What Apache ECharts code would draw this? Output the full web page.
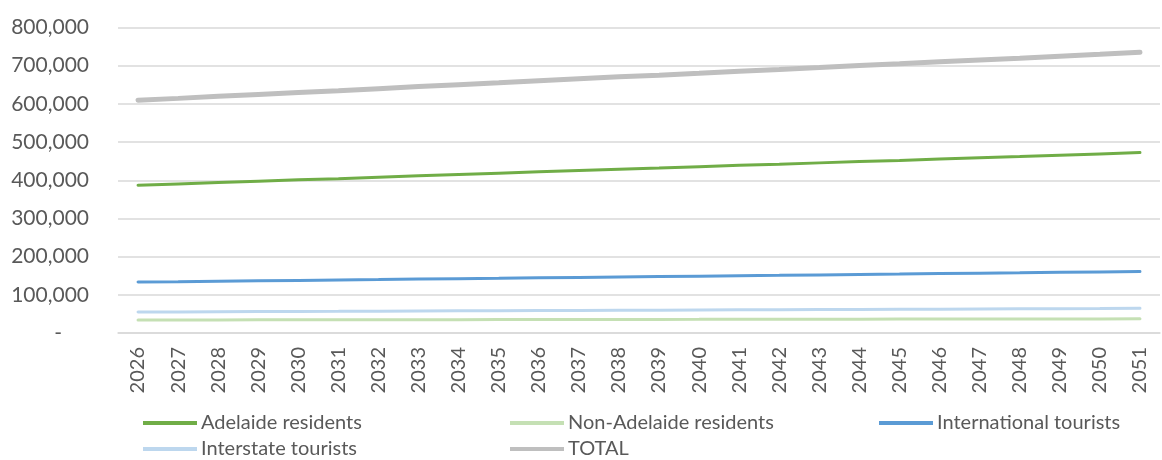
<!DOCTYPE html>
<html>
<head>
<meta charset="utf-8">
<script src="https://cdn.jsdelivr.net/npm/echarts@6/dist/echarts.min.js"></script>
<style>
  html, body { margin: 0; padding: 0; background: #fff; }
  #chart { width: 1162px; height: 460px; }
</style>
</head>
<body>
<div id="chart"></div>
<script>
var years = ['2026', '2027', '2028', '2029', '2030', '2031', '2032', '2033', '2034', '2035', '2036', '2037', '2038',
    '2039', '2040', '2041', '2042', '2043', '2044', '2045', '2046', '2047', '2048', '2049', '2050', '2051'];

var adelaide = [387000, 390500, 394000, 397500, 401000, 404000, 408000, 411500, 415000, 418500, 422000, 425500, 429000,
    432000, 435500, 439000, 442000, 445500, 449000, 452000, 455500, 459000, 462000, 465500, 469000, 472500];
var nonAdelaide = [34000, 34100, 34200, 34400, 34500, 34600, 34700, 34900, 35000, 35100, 35200, 35400, 35500,
    35600, 35700, 35900, 36000, 36100, 36200, 36400, 36500, 36600, 36700, 36800, 36900, 37000];
var international = [133500, 134500, 135800, 136800, 137800, 139000, 140000, 141300, 142300, 143300, 144500, 145600, 146800,
    147800, 148800, 150000, 151000, 152200, 153300, 154300, 155500, 156600, 157600, 158800, 159900, 161000];
var interstate = [55000, 55300, 55700, 56100, 56500, 56800, 57200, 57600, 58000, 58300, 58700, 59100, 59500,
    59800, 60200, 60600, 61000, 61300, 61700, 62100, 62500, 62900, 63300, 63700, 64300, 65000];
var total = [609500, 614400, 619700, 624800, 629800, 634400, 639900, 645300, 650300, 655200, 660400, 665600, 670800,
    675200, 680200, 685500, 690200, 695100, 700400, 704900, 710000, 715100, 719600, 724800, 730000, 735500];

var seriesNames = ['Adelaide residents', 'Non-Adelaide residents', 'International tourists', 'Interstate tourists', 'TOTAL'];
var seriesColors = ['#70ad47', '#c5e0b4', '#5b9bd5', '#bdd7ee', '#bfbfbf'];
var seriesData = [adelaide, nonAdelaide, international, interstate, total];
var seriesWidth = [3, 3, 3, 3, 5];

var font = 'Lato, "Open Sans", sans-serif';

// one legend per column so the items line up like the Excel legend
function makeLegend(names, left) {
    return {
        orient: 'vertical',
        left: left,
        top: 412,
        height: 60,
        padding: 0,
        itemWidth: 54,
        itemHeight: 4,
        itemGap: 4,
        icon: 'rect',
        textStyle: { color: '#595959', fontSize: 20, fontFamily: font, lineHeight: 22, padding: [0, 0, 0, -1] },
        data: names
    };
}

var series = [];
for (var i = 0; i < seriesNames.length; i++) {
    series.push({
        name: seriesNames[i],
        type: 'line',
        symbol: 'none',
        data: seriesData[i],
        itemStyle: { color: seriesColors[i] },
        lineStyle: { color: seriesColors[i], width: seriesWidth[i], cap: 'round' }
    });
}

var option = {
    backgroundColor: '#fff',
    animation: false,
    legend: [
        makeLegend([seriesNames[0], seriesNames[3]], 143),
        makeLegend([seriesNames[1], seriesNames[4]], 510),
        makeLegend([seriesNames[2]], 879)
    ],
    grid: { left: 118, right: 2, top: 27.5, bottom: 127 },
    xAxis: {
        type: 'category',
        boundaryGap: true,
        data: years,
        axisLine: { show: true, lineStyle: { color: '#d9d9d9', width: 1.5 } },
        axisTick: { show: false },
        axisLabel: { rotate: 90, color: '#595959', fontSize: 20, fontFamily: font, margin: 14, interval: 0 }
    },
    yAxis: {
        type: 'value',
        min: 0,
        max: 800000,
        interval: 100000,
        axisLine: { show: false },
        axisTick: { show: false },
        splitLine: { lineStyle: { color: '#d9d9d9', width: 1.5 } },
        axisLabel: {
            color: '#595959', fontSize: 21, fontFamily: font, margin: 29,
            formatter: function (v) {
                if (v === 0) return '-     ';
                return v.toString().replace(/\B(?=(\d{3})+(?!\d))/g, ',');
            }
        }
    },
    series: series
};

var myChart = echarts.init(document.getElementById('chart'));
myChart.setOption(option);
</script>
</body>
</html>
